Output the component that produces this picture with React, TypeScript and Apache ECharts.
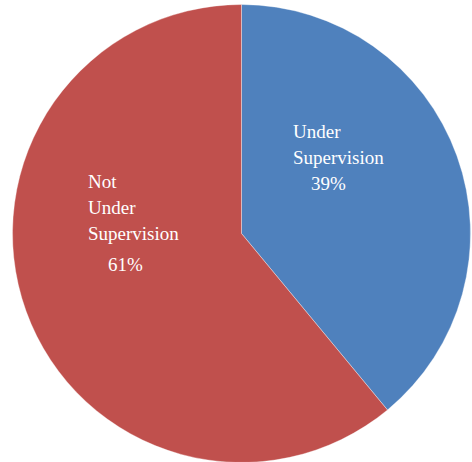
import React, { useEffect, useRef } from "react";
import * as echarts from "echarts";

const categories = ["Under Supervision", "Not Under Supervision"];
const labelLines = [["Under", "Supervision"], ["Not", "Under", "Supervision"]];
const values = [39, 61];
const colors = ["#4F81BD", "#C0504D"];

const FONT = "Liberation Serif";

export default function App() {
  const ref = useRef<HTMLDivElement>(null);
  useEffect(() => {
    if (!ref.current) return;
    const chart = echarts.init(ref.current, null, { renderer: "svg" });
    const labelPos = [
      { x: 293, y: 118 },
      { x: 88, y: 168 },
    ];
    chart.setOption({
      animation: false,
      backgroundColor: "#ffffff",
      series: [
        {
          type: "pie",
          center: [241.5, 233.5],
          radius: 229,
          startAngle: 90,
          clockwise: true,
          itemStyle: { borderColor: "rgba(255,255,255,0.6)", borderWidth: 0.6 },
          emphasis: { disabled: true },
          data: categories.map((c, i) => ({
            name: c,
            value: values[i],
            itemStyle: { color: colors[i] },
            label: {
              rich: {
                p: {
                  color: "#ffffff",
                  fontFamily: FONT,
                  fontSize: 19,
                  lineHeight: i === 0 ? 26 : 36,
                  padding: i === 0 ? [0, 0, 0, 18] : [0, 0, 0, 20],
                },
              },
            },
          })),
          label: {
            show: true,
            position: "inside",
            color: "#ffffff",
            fontFamily: FONT,
            fontSize: 19,
            lineHeight: 26,
            align: "left",
            formatter: (p: any) => {
              const lines = labelLines[p.dataIndex].map((l) => "{t|" + l + "}");
              return lines.join("\n") + "\n{p|" + Math.round(p.percent) + "%}";
            },
            rich: {
              t: { color: "#ffffff", fontFamily: FONT, fontSize: 19, lineHeight: 26 },
              p: { color: "#ffffff", fontFamily: FONT, fontSize: 19, lineHeight: 26 },
            },
          },
          labelLayout: (params: any) => {
            const pos = labelPos[params.dataIndex];
            return { x: pos.x, y: pos.y, align: "left", verticalAlign: "top" };
          },
          labelLine: { show: false },
        },
      ],
    });
    return () => chart.dispose();
  }, []);
  return (
    <div
      ref={ref}
      style={{ position: "absolute", left: 0, top: 0, width: 472, height: 462 }}
    />
  );
}
